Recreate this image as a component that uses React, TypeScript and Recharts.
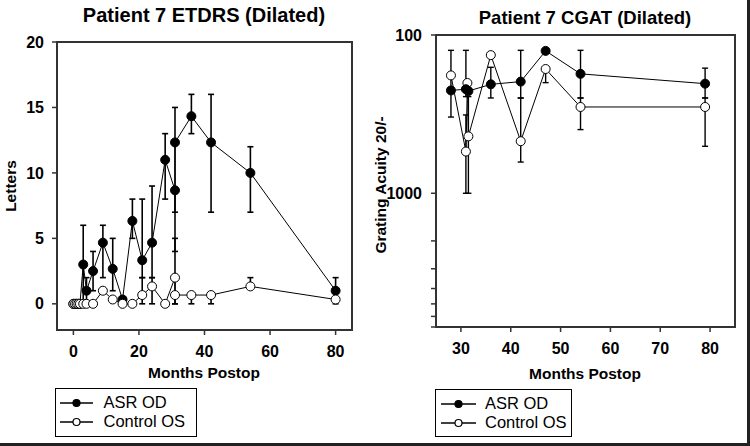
import React from 'react';
import { LineChart, Line, XAxis, YAxis, ErrorBar, ReferenceArea, Legend } from 'recharts';

// ---------- Left panel: Patient 7 ETDRS (Dilated) ----------
const etdrsAsrMonths = [0, 0.5, 1, 1.5, 2, 3, 4, 6, 9, 12, 15, 18, 21, 24, 28, 31, 31, 36, 42, 54, 80];
const etdrsAsrLetters = [0, 0, 0, 0, 0, 3, 1, 2.5, 4.67, 2.67, 0.33, 6.33, 3.33, 4.67, 11, 8.67, 12.33, 14.33, 12.33, 10, 1];
const etdrsAsrLow = [0, 0, 0, 0, 0, 0, 0, 1, 2, 1, 0.33, 5, 2, 2, 8, 4, 7, 13, 7, 7, 0];
const etdrsAsrHigh = [0, 0, 0, 0, 0, 6, 2, 4, 6, 5, 0.33, 8, 8, 9, 13, 8.67, 15, 16, 16, 12, 2];

const etdrsCtrlMonths = [0, 0.5, 1, 1.5, 2, 3, 4, 6, 9, 12, 15, 18, 21, 24, 28, 31, 31, 36, 42, 54, 80];
const etdrsCtrlLetters = [0, 0, 0, 0, 0, 0, 0, 0, 1, 0.33, 0, 0, 0.67, 1.33, 0, 2, 0.67, 0.67, 0.67, 1.33, 0.33];
const etdrsCtrlLow = [0, 0, 0, 0, 0, 0, 0, 0, 1, 0.33, 0, 0, 0, 0, 0, 0, 0, 0, 0, 1.33, 0.33];
const etdrsCtrlHigh = [0, 0, 0, 0, 0, 0, 0, 0, 1, 0.33, 0, 0, 2, 2, 0, 5, 0.67, 0.67, 0.67, 2, 0.33];

const etdrsXTicks = [0, 20, 40, 60, 80];
const etdrsYTicks = [0, 5, 10, 15, 20];

// ---------- Right panel: Patient 7 CGAT (Dilated) ----------
const cgatAsrMonths = [28, 31, 31.5, 36, 42, 47, 54, 79];
const cgatAsrAcuity = [224, 220, 226, 205, 197, 126, 176, 203];
const cgatAsrLow = [125, 125, 226, 160, 125, 126, 125, 162];
const cgatAsrHigh = [330, 245, 226, 250, 250, 126, 250, 250];

const cgatCtrlMonths = [28, 31, 31.3, 31.5, 36, 42, 47, 54, 79];
const cgatCtrlAcuity = [180, 545, 201, 437, 134, 469, 164, 285, 285];
const cgatCtrlLow = [180, 320, 201, 245, 134, 250, 164, 250, 250];
const cgatCtrlHigh = [180, 1000, 201, 1000, 134, 635, 200, 396, 505];

const cgatXTicks = [30, 40, 50, 60, 70, 80];
const cgatYTicks = [100, 1000, 2000, 3000, 4000, 5000, 6000, 7000];
const cgatYLabels = [100, 1000];

const seriesNames = ['ASR OD', 'Control OS'];

const FONT = '"Liberation Sans", Arial, Helvetica, sans-serif';
const AXIS = '#333';

function rows(xs: number[], ys: number[], lo: number[], hi: number[]) {
  return xs.map((x, i) => ({ x, y: ys[i], err: [ys[i] - lo[i], hi[i] - ys[i]] }));
}

const tickStyle = { fill: '#000', fontSize: 16, fontWeight: 'bold', fontFamily: FONT };

function LegendBox({ width, height, lineX1, lineX2, textX }: { width: number; height: number; lineX1: number; lineX2: number; textX: number }) {
  const rowsY = [15, 34];
  const cx = (lineX1 + lineX2) / 2;
  return (
    <div
      style={{
        position: 'relative',
        width,
        height,
        boxSizing: 'border-box',
        border: '1.5px solid #000',
        background: '#fff',
        fontFamily: FONT,
        fontSize: 16.5,
        color: '#000',
      }}
    >
      {seriesNames.map((name, i) => (
        <React.Fragment key={name}>
          <svg
            width={width}
            height={12}
            style={{ position: 'absolute', left: -1.5, top: rowsY[i] - 6 - 1.5 }}
          >
            <line x1={lineX1} x2={lineX2} y1={6} y2={6} stroke="#000" strokeWidth={1.5} />
            <circle cx={cx} cy={6} r={3.5} fill={i === 0 ? '#000' : '#fff'} stroke="#000" strokeWidth={1.2} />
          </svg>
          <div
            style={{
              position: 'absolute',
              left: textX - 1.5,
              top: rowsY[i] - 8.25 - 1.5,
              lineHeight: '16.5px',
              whiteSpace: 'nowrap',
            }}
          >
            {name}
          </div>
        </React.Fragment>
      ))}
    </div>
  );
}

const titleStyle = (size: number): React.CSSProperties => ({
  position: 'absolute',
  transform: 'translate(-50%, -50%)',
  fontFamily: FONT,
  fontWeight: 'bold',
  fontSize: size,
  lineHeight: 1,
  whiteSpace: 'nowrap',
  color: '#000',
});

export default function App() {
  const leftAsr = rows(etdrsAsrMonths, etdrsAsrLetters, etdrsAsrLow, etdrsAsrHigh);
  const leftCtrl = rows(etdrsCtrlMonths, etdrsCtrlLetters, etdrsCtrlLow, etdrsCtrlHigh);
  const rightAsr = rows(cgatAsrMonths, cgatAsrAcuity, cgatAsrLow, cgatAsrHigh);
  const rightCtrl = rows(cgatCtrlMonths, cgatCtrlAcuity, cgatCtrlLow, cgatCtrlHigh);

  return (
    <div
      style={{
        position: 'absolute',
        left: 0,
        top: 0,
        width: 750,
        height: 446,
        background: '#fff',
        overflow: 'hidden',
        boxSizing: 'border-box',
        borderRight: '3px solid #222',
        borderBottom: '3px solid #222',
      }}
    >
      {/* Left chart */}
      <div style={{ position: 'absolute', left: 0, top: 0 }}>
        <LineChart width={375} height={446} margin={{ top: 42, right: 23, bottom: 61, left: 0 }}>
          <XAxis
            dataKey="x"
            type="number"
            domain={[-5, 85]}
            ticks={etdrsXTicks}
            allowDataOverflow
            height={55}
            tickSize={5}
            tickMargin={11}
            axisLine={{ stroke: AXIS, strokeWidth: 2 }}
            tickLine={{ stroke: AXIS, strokeWidth: 1.5 }}
            tick={tickStyle}
          />
          <YAxis
            dataKey="y"
            type="number"
            domain={[-2, 20]}
            ticks={etdrsYTicks}
            allowDataOverflow
            width={57}
            tickSize={5}
            tickMargin={8}
            axisLine={{ stroke: AXIS, strokeWidth: 2 }}
            tickLine={{ stroke: AXIS, strokeWidth: 1.5 }}
            tick={tickStyle}
          />
          <ReferenceArea x1={-5} x2={85} y1={-2} y2={20} fill="none" stroke={AXIS} strokeWidth={2} ifOverflow="visible" />
          <Line
            data={leftAsr}
            dataKey="y"
            name={seriesNames[0]}
            type="linear"
            stroke="#000"
            strokeWidth={1}
            dot={{ r: 4.5, fill: '#000', stroke: '#000', strokeWidth: 1 }}
            activeDot={false}
            isAnimationActive={false}
          >
            <ErrorBar dataKey="err" direction="y" width={3} stroke="#000" strokeWidth={1.6} isAnimationActive={false} />
          </Line>
          <Line
            data={leftCtrl}
            dataKey="y"
            name={seriesNames[1]}
            type="linear"
            stroke="#000"
            strokeWidth={1}
            dot={{ r: 4.5, fill: '#fff', stroke: '#000', strokeWidth: 1 }}
            activeDot={false}
            isAnimationActive={false}
          >
            <ErrorBar dataKey="err" direction="y" width={3} stroke="#000" strokeWidth={1.6} isAnimationActive={false} />
          </Line>
          <Legend
            layout="vertical"
            align="center"
            verticalAlign="middle"
            wrapperStyle={{ left: 55, top: 388, width: 142, height: 49 }}
            content={() => <LegendBox width={142} height={49} lineX1={5} lineX2={38} textX={49} />}
          />
        </LineChart>
      </div>

      {/* Right chart */}
      <div style={{ position: 'absolute', left: 375, top: 0 }}>
        <LineChart width={375} height={446} margin={{ top: 35, right: 15, bottom: 64, left: 0 }}>
          <XAxis
            dataKey="x"
            type="number"
            domain={[25, 85]}
            ticks={cgatXTicks}
            allowDataOverflow
            height={55}
            tickSize={5}
            tickMargin={11}
            axisLine={{ stroke: AXIS, strokeWidth: 2 }}
            tickLine={{ stroke: AXIS, strokeWidth: 1.5 }}
            tick={tickStyle}
          />
          <YAxis
            dataKey="y"
            type="number"
            scale="log"
            domain={[100, 7000]}
            reversed
            ticks={cgatYTicks}
            interval={0}
            allowDataOverflow
            width={61}
            tickSize={5}
            tickMargin={9}
            tickFormatter={(v: number) => (cgatYLabels.includes(v) ? String(v) : '')}
            axisLine={{ stroke: AXIS, strokeWidth: 2 }}
            tickLine={{ stroke: AXIS, strokeWidth: 1.5 }}
            tick={tickStyle}
          />
          <ReferenceArea x1={25} x2={85} y1={100} y2={7000} fill="none" stroke={AXIS} strokeWidth={2} ifOverflow="visible" />
          <Line
            data={rightCtrl}
            dataKey="y"
            name={seriesNames[1]}
            type="linear"
            stroke="#000"
            strokeWidth={1}
            dot={{ r: 4.5, fill: '#fff', stroke: '#000', strokeWidth: 1 }}
            activeDot={false}
            isAnimationActive={false}
          >
            <ErrorBar dataKey="err" direction="y" width={3} stroke="#000" strokeWidth={1.4} isAnimationActive={false} />
          </Line>
          <Line
            data={rightAsr}
            dataKey="y"
            name={seriesNames[0]}
            type="linear"
            stroke="#000"
            strokeWidth={1}
            dot={{ r: 4.5, fill: '#000', stroke: '#000', strokeWidth: 1 }}
            activeDot={false}
            isAnimationActive={false}
          >
            <ErrorBar dataKey="err" direction="y" width={3} stroke="#000" strokeWidth={1.4} isAnimationActive={false} />
          </Line>
          <Legend
            layout="vertical"
            align="center"
            verticalAlign="middle"
            wrapperStyle={{ left: 60, top: 389, width: 137, height: 48 }}
            content={() => <LegendBox width={137} height={48} lineX1={6} lineX2={41} textX={50.5} />}
          />
        </LineChart>
      </div>

      {/* Titles and axis labels */}
      <div style={{ ...titleStyle(20), left: 204, top: 15 }}>Patient 7 ETDRS (Dilated)</div>
      <div style={{ ...titleStyle(18.5), left: 585, top: 17.5 }}>Patient 7 CGAT (Dilated)</div>
      <div style={{ ...titleStyle(15.5), left: 204, top: 373 }}>Months Postop</div>
      <div style={{ ...titleStyle(15.5), left: 585, top: 374 }}>Months Postop</div>
      <div style={{ ...titleStyle(15.5), left: 11, top: 186, transform: 'translate(-50%, -50%) rotate(-90deg)' }}>Letters</div>
      <div style={{ ...titleStyle(15.5), left: 381, top: 185, transform: 'translate(-50%, -50%) rotate(-90deg)' }}>Grating Acuity 20/-</div>
    </div>
  );
}
